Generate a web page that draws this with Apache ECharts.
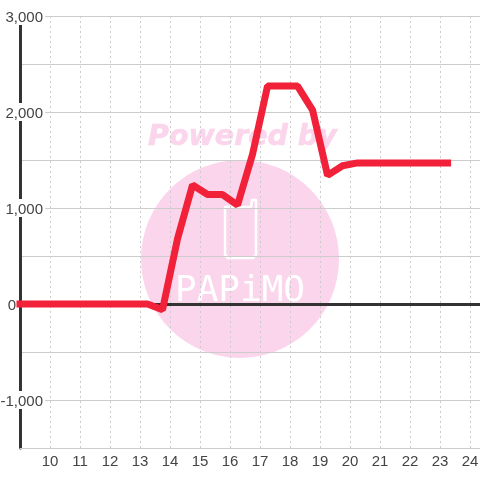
<!DOCTYPE html>
<html>
<head>
<meta charset="utf-8">
<style>
  html, body { margin: 0; padding: 0; background: #fff; }
  #chart { width: 480px; height: 480px; }
</style>
<script src="https://cdn.jsdelivr.net/npm/echarts@6/dist/echarts.min.js"></script>
</head>
<body>
<div id="chart"></div>
<script>
var hours = [9, 9.75, 10.25, 10.75, 11.25, 11.75, 12.25, 12.75, 13.25, 13.75, 14.25, 14.75, 15.25, 15.75, 16.25, 16.75, 17.25, 17.75, 18.25, 18.75, 19.25, 19.75, 20.25, 20.75, 21.25, 21.75, 22.25, 22.75, 23.25];
var amounts = [0, 0, 0, 0, 0, 0, 0, 0, 0, -60, 680, 1240, 1140, 1140, 1030, 1560, 2270, 2270, 2270, 2020, 1340, 1440, 1470, 1470, 1470, 1470, 1470, 1470, 1470];
var labelColor = "#444";
var watermark = "#fbd5ec";

var myChart = echarts.init(document.getElementById("chart"));
var option = {
  animation: false,
  backgroundColor: "#fff",
  grid: { left: 20, right: 0, top: 16, bottom: 32, outerBoundsMode: "none" },
  xAxis: [
    {
      type: "value",
      min: 9,
      max: 24.33,
      interval: 1,
      axisLine: { onZero: false, lineStyle: { color: "#ccc", width: 1 } },
      axisTick: { show: false },
      axisLabel: {
        color: labelColor,
        fontFamily: "Liberation Sans",
        fontSize: 15,
        margin: 6,
        formatter: function (v) {
          return v > 9 && v % 1 === 0 ? String(v) : "";
        }
      },
      splitLine: { show: true, showMaxLine: false, lineStyle: { color: "#ccc", type: [2, 3], width: 1 } }
    },
    {
      // zero line
      type: "value",
      min: 9,
      max: 24.33,
      interval: 1,
      axisLine: { onZero: true, lineStyle: { color: "#333", width: 3 } },
      axisTick: { show: false },
      axisLabel: { show: false },
      splitLine: { show: false }
    }
  ],
  yAxis: {
    type: "value",
    min: -1500,
    max: 3000,
    interval: 500,
    axisLine: { show: true, onZero: false, lineStyle: { color: "#333", width: 3 } },
    axisTick: { show: false },
    axisLabel: {
      color: labelColor,
      fontFamily: "Liberation Sans",
      fontSize: 15,
      margin: -25,
      formatter: function (v) {
        if (v % 1000 !== 0) return "";
        if (v === 0) return "{zero|0}";
        return "{num|" + v.toLocaleString("en-US") + "}";
      },
      rich: {
        num: {
          color: labelColor,
          fontFamily: "Liberation Sans",
          fontSize: 15,
          lineHeight: 13,
          backgroundColor: "#fff",
          padding: [3, 2, 0, 2]
        },
        zero: {
          color: labelColor,
          fontFamily: "Liberation Sans",
          fontSize: 15,
          padding: [3, 29, 0, 0]
        }
      }
    },
    splitLine: { show: true, lineStyle: { color: "#ccc", width: 1 } }
  },
  graphic: [
    {
      type: "circle",
      z: -1,
      shape: { cx: 240, cy: 259, r: 99 },
      style: { fill: watermark }
    },
    {
      type: "text",
      z: -1,
      x: 148,
      y: 123,
      style: {
        text: "Powered by",
        fill: watermark,
        stroke: watermark,
        lineWidth: 0.6,
        font: "italic bold 28.5px 'DejaVu Sans'"
      }
    },
    {
      // phone outline
      type: "polygon",
      z: -1,
      shape: { points: [[225, 207], [251, 207], [252, 200], [256, 200], [256, 255], [253, 258], [228, 258], [225, 255]] },
      style: { fill: "none", stroke: "#fff", lineWidth: 2.5, lineJoin: "round" }
    },
    {
      type: "text",
      z: -1,
      x: 175,
      y: 274,
      style: {
        text: "PAPiMO",
        fill: "#fff",
        font: "36px 'DejaVu Sans Mono'"
      }
    }
  ],
  series: [
    {
      type: "line",
      xAxisIndex: 0,
      data: hours.map(function (h, i) {
        return [h, amounts[i]];
      }),
      symbol: "none",
      clip: false,
      z: 5,
      lineStyle: { color: "#f12139", width: 7, cap: "square" }
    }
  ]
};
myChart.setOption(option);
</script>
</body>
</html>
